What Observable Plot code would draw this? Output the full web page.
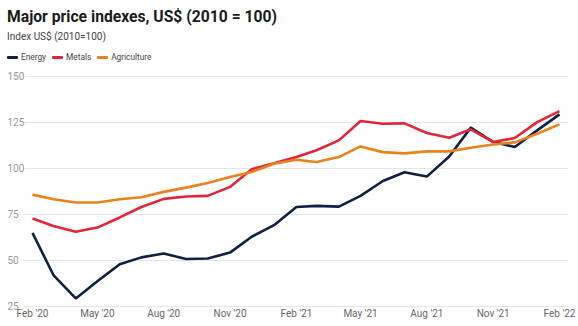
<!DOCTYPE html>
<html>
<head>
<meta charset="utf-8">
<script src="https://cdn.jsdelivr.net/npm/d3@7"></script>
<script src="https://cdn.jsdelivr.net/npm/@observablehq/plot@0.6"></script>
<style>
  html, body { margin: 0; padding: 0; background: #fff; }
  body { width: 578px; height: 326px; overflow: hidden; font-family: Roboto, "Noto Sans", sans-serif; }
  #title { position: absolute; left: 7px; top: 7px; font-size: 15.7px; font-weight: 700; color: #1a1a1a; white-space: nowrap; }
  #subtitle { position: absolute; left: 7px; top: 31px; font-size: 10px; color: #444; white-space: nowrap; }
  #legend { position: absolute; left: 7px; top: 52px; font-size: 8.3px; line-height: 11px; color: #444; display: flex; gap: 6px; white-space: nowrap; }
  .item { display: flex; align-items: center; }
  .sw { display: inline-block; width: 11px; height: 2.5px; border-radius: 1px; margin-right: 3px; }
  #chart { position: absolute; left: 0; top: 64px; }
</style>
</head>
<body>
<div id="title">Major price indexes, US$ (2010 = 100)</div>
<div id="subtitle">Index US$ (2010=100)</div>
<div id="legend"></div>
<div id="chart"></div>
<script>
const months = ["2020-02","2020-03","2020-04","2020-05","2020-06","2020-07","2020-08","2020-09","2020-10","2020-11","2020-12",
  "2021-01","2021-02","2021-03","2021-04","2021-05","2021-06","2021-07","2021-08","2021-09","2021-10","2021-11","2021-12",
  "2022-01","2022-02"];
const energy =      [65, 42.1, 29.4, 38.7, 48, 51.7, 53.8, 50.8, 51.1, 54.3, 62.9, 69.2, 79.1, 79.7, 79.3, 85.1, 93.2, 98, 95.6, 106.5, 122.2, 114.4, 111.7, 120.7, 129.4];
const metals =      [72.8, 68.8, 65.6, 67.9, 73.4, 79.1, 83.5, 84.8, 85.1, 90, 99.6, 102.8, 106.2, 109.9, 115.3, 125.8, 124.3, 124.5, 119.3, 116.7, 121.3, 114.4, 116.6, 125.2, 131.2];
const agriculture = [85.8, 83.3, 81.5, 81.5, 83.3, 84.4, 87.3, 89.6, 92.1, 95.4, 98.1, 102.6, 104.8, 103.5, 106.2, 112, 108.9, 108.2, 109.3, 109.3, 111.3, 113, 114.2, 118.9, 124];
const seriesNames = ["Energy", "Metals", "Agriculture"];
const seriesColors = ["#0f2142", "#e0263a", "#e8831f"];
const yTicks = [25, 50, 75, 100, 125, 150];
const xTickLabels = ["2020-02","2020-05","2020-08","2020-11","2021-02","2021-05","2021-08","2021-11","2022-02"];

const parse = d3.utcParse("%Y-%m");
const valuesBySeries = [energy, metals, agriculture];
const data = [];
seriesNames.forEach((name, si) => {
  months.forEach((m, i) => data.push({series: name, date: parse(m), value: valuesBySeries[si][i]}));
});

const legend = document.getElementById("legend");
seriesNames.forEach((name, i) => {
  const it = document.createElement("span");
  it.className = "item";
  it.innerHTML = `<span class="sw" style="background:${seriesColors[i]}"></span>${name}`;
  legend.appendChild(it);
});

const chart = Plot.plot({
  width: 578,
  height: 262,
  marginTop: 12,
  marginLeft: 23,
  marginRight: 10,
  marginBottom: 20,
  style: {fontFamily: "Roboto, 'Noto Sans', sans-serif", fontSize: "10px", color: "#777", background: "#fff"},
  x: {type: "utc", insetLeft: 9, insetRight: 9, domain: [parse(months[0]), parse(months[months.length - 1])]},
  y: {domain: [25, 150]},
  color: {domain: seriesNames, range: seriesColors},
  marks: [
    Plot.ruleY(yTicks, {stroke: "#e6e6e6", strokeWidth: 1}),
    Plot.axisY({ticks: yTicks, tickSize: 0, tickPadding: 3, textAnchor: "start", dx: -13, label: null, fill: "#999"}),
    Plot.axisX({ticks: xTickLabels.map(parse), tickSize: 0, tickPadding: 3, tickFormat: d3.utcFormat("%b '%y"), label: null, fill: "#666"}),
    Plot.line(data, {x: "date", y: "value", z: "series", stroke: "series", strokeWidth: 2.6, strokeLinejoin: "miter", strokeLinecap: "butt"})
  ]
});
document.getElementById("chart").appendChild(chart);
</script>
</body>
</html>
